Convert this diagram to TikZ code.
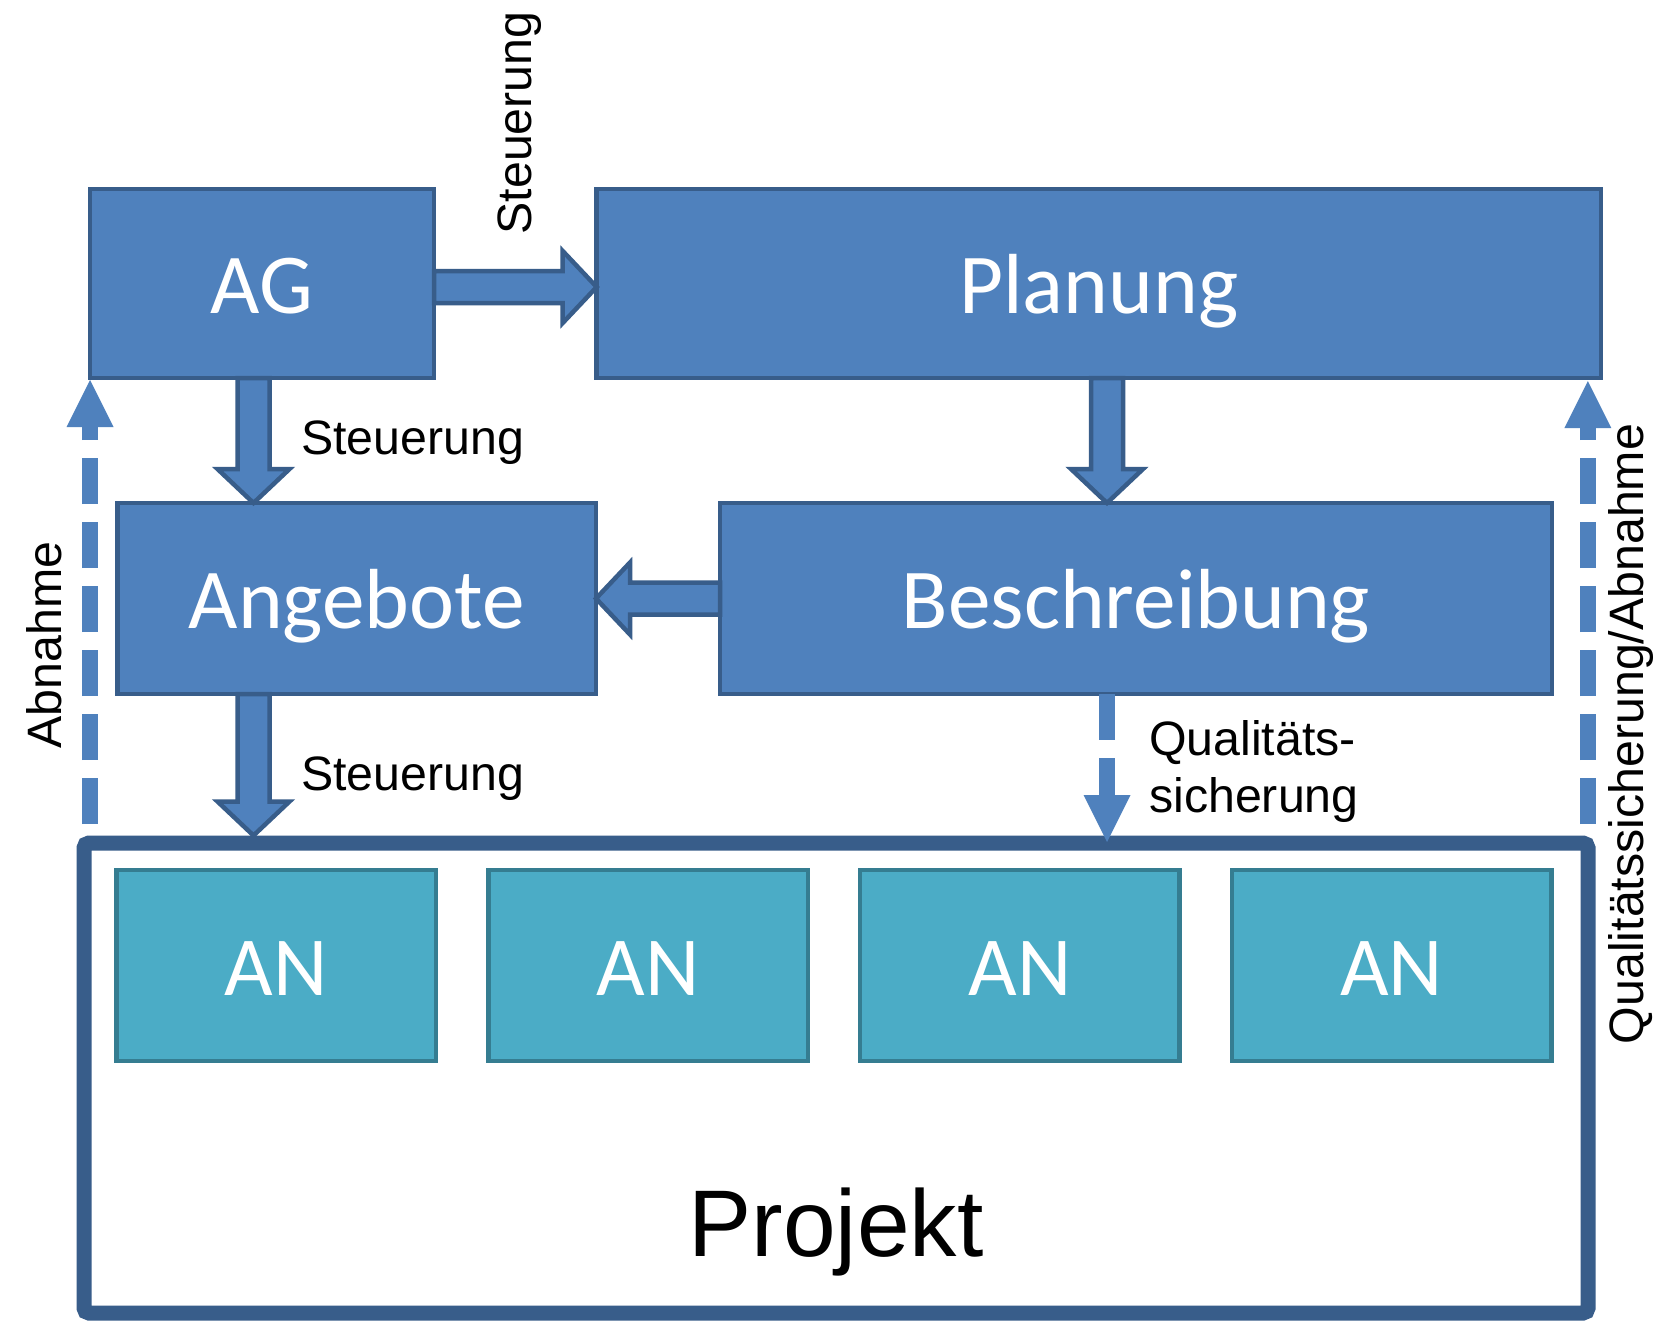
\documentclass[tikz,border=0pt]{standalone}
\usepackage{fontspec}
\setmainfont{Liberation Sans}
\newfontfamily\boxfont{Carlito}
\usetikzlibrary{calc}

\definecolor{boxblue}{HTML}{4F81BD}
\definecolor{boxedge}{HTML}{385D8A}
\definecolor{anfill}{HTML}{4BACC6}
\definecolor{anedge}{HTML}{357D91}

\tikzset{
  bluebox/.style={draw=boxedge, fill=boxblue, line width=4.5pt, outer sep=0pt,
    text=white, font=\boxfont\fontsize{85.3}{100}\selectfont,
    text height=59pt, text depth=0pt, inner sep=0pt},
  anbox/.style={bluebox, draw=anedge, fill=anfill, minimum width=319.5pt, minimum height=191pt,
    font=\boxfont\fontsize{84}{100}\selectfont},
  projbox/.style={draw=boxedge, fill=white, line width=15pt, rounded corners=5pt},
  sidelabel/.style={font=\fontsize{48.3}{58}\selectfont, inner sep=0pt, text=black},
  blockarr/.style={fill=boxblue, draw=boxedge, line width=4.5pt, line join=miter},
  dashshaft/.style={draw=boxblue, line width=16pt, dash pattern=on 46pt off 18pt},
  dashhead/.style={fill=boxblue},
}

% thick outlined arrow from #1 to the tip #2
\newcommand\BlockConn[2]{%
  \coordinate (ba-c) at ($(#2)!34pt!(#1)$);
  \filldraw[blockarr]
    ($(#1)!16pt!90:(#2)$) -- ($(ba-c)!16pt!-90:(#1)$) -- ($(ba-c)!36pt!-90:(#1)$)
    -- (#2) -- ($(ba-c)!36pt!90:(#1)$) -- ($(ba-c)!16pt!90:(#1)$)
    -- ($(#1)!16pt!-90:(#2)$) -- cycle;
}
% dashed arrow from #1 to the tip #2
\newcommand\DashConn[2]{%
  \coordinate (da-b) at ($(#2)!47pt!(#1)$);
  \draw[dashshaft] (#1) -- (da-b);
  \fill[dashhead] (#2) -- ($(da-b)!23.5pt!90:(#2)$) -- ($(da-b)!23.5pt!-90:(#2)$) -- cycle;
}

\begin{document}
\begin{tikzpicture}[x=1pt, y=-1pt]
\useasboundingbox (0,0) rectangle (1653,1324);
\fill[white] (0,0) rectangle (1653,1324);

% upper boxes
\node[bluebox, minimum width=344pt, minimum height=189pt] (AG) at (262,283.5) {AG};
\node[bluebox, minimum width=1004.3pt, minimum height=189pt] (Planung) at (1098.85,283.5) {Planung};
\node[bluebox, minimum width=478.5pt, minimum height=191pt] (Angebote) at (356.75,598.5) {Angebote};
\node[bluebox, minimum width=832pt, minimum height=191pt] (Beschreibung) at (1136,598.5) {Beschreibung};

% project frame with contractors
\node[projbox, minimum width=1504pt, minimum height=470pt] (Projekt) at (836,1078) {};
\node[font=\fontsize{94.7}{110}\selectfont, anchor=base, inner sep=0pt] (projlabel) at (836,1256) {Projekt};
\foreach \i/\x in {1/276.25, 2/648.05, 3/1019.85, 4/1391.65}
  \node[anbox] (AN\i) at (\x,965.5) {AN};

% connector end points
\coordinate (a1s) at ($(AG.east)+(0,3.5)$);
\coordinate (a1t) at ($(Planung.west)+(0,3.5)$);
\coordinate (a2s) at ($(AG.south)+(-8.5,0)$);
\coordinate (a2t) at (a2s |- Angebote.north);
\coordinate (a3s) at (a2s |- Angebote.south);
\coordinate (a3t) at (a2s |- Projekt.north);
\coordinate (a4s) at ($(Planung.south)+(8.15,0)$);
\coordinate (a4t) at (a4s |- Beschreibung.north);

\coordinate (d1t) at ($(AG.south west)+(0,2)$);
\coordinate (d1s) at ($(d1t |- Projekt.north)+(0,-11.5)$);
\coordinate (d2t) at ($(Planung.south)+(489,3)$);
\coordinate (d2s) at ($(d2t |- Projekt.north)+(0,-11.5)$);
\coordinate (d3s) at (a4s |- Beschreibung.south);
\coordinate (d3t) at ($(a4s |- Projekt.north)+(0,6.5)$);

% solid block arrows
\BlockConn{a1s}{a1t}
\BlockConn{a2s}{a2t}
\BlockConn{a3s}{a3t}
\BlockConn{a4s}{a4t}
\BlockConn{Beschreibung.west}{Angebote.east}

% dashed arrows
\DashConn{d1s}{d1t}
\DashConn{d2s}{d2t}
\DashConn{d3s}{d3t}

% labels
\node[sidelabel, anchor=base, rotate=90] (lsteuer1) at (531,123) {Steuerung};
\node[sidelabel, anchor=base west] (lsteuer2) at (301,454) {Steuerung};
\node[sidelabel, anchor=base west] (lsteuer3) at (301,790) {Steuerung};
\node[sidelabel, anchor=base west] (lqs1) at (1149,755) {Qualitäts-};
\node[sidelabel, anchor=base west] (lqs2) at (1149,812) {sicherung};
\node[sidelabel, anchor=base, rotate=90] (labn) at (61,645) {Abnahme};
\node[sidelabel, anchor=base, rotate=90] (lqsabn) at (1643,734) {Qualitätssicherung/Abnahme};
\end{tikzpicture}
\end{document}
